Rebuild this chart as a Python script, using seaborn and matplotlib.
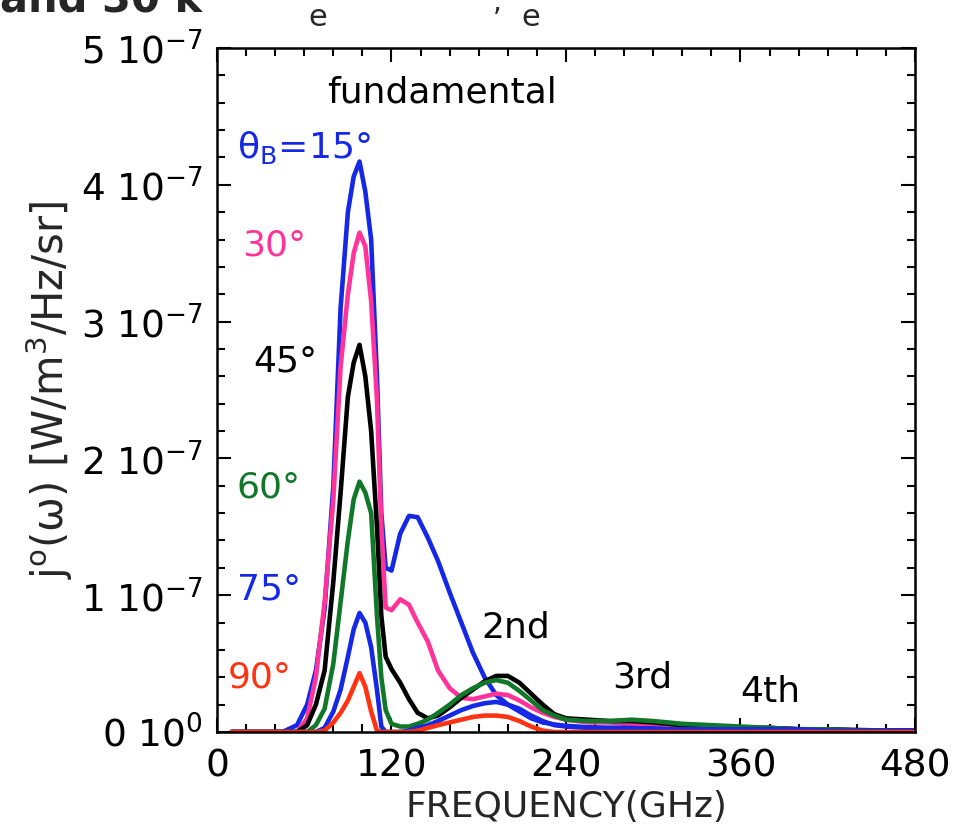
import numpy as np
import pandas as pd
import matplotlib
matplotlib.use("Agg")
import matplotlib.pyplot as plt
import seaborn as sns
from matplotlib.ticker import MultipleLocator, FixedLocator

sns.set_theme(style="white")
plt.rcParams['font.family'] = ['DejaVu Sans']
plt.rcParams['mathtext.default'] = 'regular'

# ---------------- data (j in units of 1e-7 W/m^3/Hz/sr) ----------------
freq = [10, 45, 55, 62, 68, 74, 80, 85, 90, 94, 98, 102, 106, 110, 113, 116,
        120, 126, 132, 138, 145, 152, 160, 168, 176, 184, 192, 200, 208, 216,
        224, 232, 240, 255, 270, 285, 300, 320, 340, 360, 380, 400, 420, 440,
        460, 480]

j15 = [0, 0, 0.05, 0.2, 0.45, 0.9, 1.8, 3.1, 3.8, 4.06, 4.17, 3.95, 3.6, 2.6, 1.6, 1.2,
       1.18, 1.45, 1.58, 1.57, 1.42, 1.25, 1.02, 0.8, 0.58, 0.4, 0.27, 0.2, 0.15, 0.1,
       0.07, 0.055, 0.045, 0.035, 0.03, 0.03, 0.03, 0.02, 0.02, 0.02, 0.02, 0.015, 0.01, 0.01,
       0.01, 0.01]
j30 = [0, 0, 0, 0.1, 0.4, 0.95, 1.7, 2.67, 3.2, 3.5, 3.65, 3.55, 3.15, 2.43, 1.5, 0.91,
       0.89, 0.97, 0.93, 0.8, 0.66, 0.45, 0.32, 0.25, 0.24, 0.26, 0.28, 0.27, 0.23, 0.18,
       0.14, 0.11, 0.09, 0.07, 0.07, 0.06, 0.06, 0.05, 0.04, 0.03, 0.03, 0.02, 0.015, 0.01,
       0.01, 0.01]
j45 = [0, 0, 0, 0.05, 0.2, 0.45, 1.1, 1.75, 2.45, 2.7, 2.83, 2.6, 2.2, 1.5, 0.85, 0.55,
       0.46, 0.36, 0.24, 0.14, 0.1, 0.12, 0.18, 0.25, 0.31, 0.37, 0.41, 0.41, 0.36, 0.28,
       0.2, 0.13, 0.1, 0.09, 0.08, 0.08, 0.07, 0.05, 0.04, 0.03, 0.03, 0.02, 0.02, 0.015,
       0.01, 0.01]
j60 = [0, 0, 0, 0, 0.05, 0.17, 0.5, 0.95, 1.4, 1.7, 1.83, 1.75, 1.6, 0.85, 0.4, 0.16,
       0.06, 0.04, 0.04, 0.06, 0.09, 0.14, 0.2, 0.27, 0.32, 0.36, 0.38, 0.36, 0.3, 0.23,
       0.16, 0.12, 0.09, 0.08, 0.08, 0.09, 0.08, 0.06, 0.05, 0.04, 0.03, 0.02, 0.02, 0.01,
       0.01, 0.0]
j75 = [0, 0, 0, 0, 0, 0.03, 0.15, 0.31, 0.55, 0.75, 0.87, 0.8, 0.62, 0.31, 0.04, 0,
       0, 0, 0.01, 0.03, 0.05, 0.08, 0.12, 0.16, 0.19, 0.21, 0.22, 0.2, 0.17, 0.12,
       0.08, 0.05, 0.04, 0.03, 0.03, 0.03, 0.02, 0.02, 0.02, 0.02, 0.02, 0.02, 0.01, 0.01,
       0.01, 0.01]
j90 = [0, 0, 0, 0, 0, 0.01, 0.07, 0.14, 0.23, 0.33, 0.43, 0.33, 0.15, 0.01, 0, 0,
       0, 0, 0, 0.01, 0.03, 0.05, 0.07, 0.09, 0.11, 0.12, 0.12, 0.11, 0.08, 0.04,
       0.01, 0, 0, 0, 0, 0, 0, 0, 0, 0, 0, 0, 0, 0,
       0, 0]

angles = ["15", "30", "45", "60", "75", "90"]
series = [j15, j30, j45, j60, j75, j90]
colors = ["#1428e6", "#ff3399", "#000000", "#11782a", "#1428e6", "#ff3311"]

ytick_vals = [0, 1, 2, 3, 4, 5]
ytick_labels = ["0 10$^{0}$", "1 10$^{-7}$", "2 10$^{-7}$", "3 10$^{-7}$",
                "4 10$^{-7}$", "5 10$^{-7}$"]
xtick_vals = [0, 120, 240, 360, 480]

SCALE = 1e-7
rows = []
for a, ys in zip(angles, series):
    for f, v in zip(freq, ys):
        rows.append((f, v * SCALE, a))
df = pd.DataFrame(rows, columns=["freq", "j", "angle"])

# ---------------- figure ----------------
fig = plt.figure(figsize=(9.7, 8.27), dpi=100)
ax = fig.add_axes([217 / 970, 1 - 732 / 827, (915 - 217) / 970, (732 - 48) / 827])

sns.lineplot(data=df, x="freq", y="j", hue="angle", palette=dict(zip(angles, colors)),
             estimator=None, sort=False, legend=False, linewidth=3.3, ax=ax)

ax.set_xlim(0, 480)
ax.set_ylim(0, 5 * SCALE)
ax.xaxis.set_major_locator(FixedLocator(xtick_vals))
ax.xaxis.set_minor_locator(MultipleLocator(20))
ax.yaxis.set_major_locator(FixedLocator([v * SCALE for v in ytick_vals]))
ax.yaxis.set_minor_locator(MultipleLocator(0.2 * SCALE))
ax.set_yticklabels(ytick_labels)
ax.set_xticklabels([str(v) for v in xtick_vals])

ax.tick_params(which="both", direction="in", top=True, right=True, bottom=True, left=True,
               width=1.5, colors="black")
ax.tick_params(which="major", length=10, labelsize=27, pad=10)
ax.tick_params(which="minor", length=6)
ax.tick_params(axis="x", which="major", pad=12)
for s in ax.spines.values():
    s.set_linewidth(1.8)
    s.set_color("black")

ax.set_xlabel("FREQUENCY(GHz)", fontsize=26, labelpad=4)
ax.set_ylabel(r"j$^{\rm o}$($\omega$) [W/m$^3$/Hz/sr]", fontsize=30, labelpad=4)

def px_to_data(px, py):
    return (px - 217) / (698 / 480), (732 - py) / 136.8 * SCALE

labels = [
    ("fundamental", 327, 102, "black"),
    (r"$\theta_{B}$=15°", 237, 158, colors[0]),
    ("30°", 242, 255, colors[1]),
    ("45°", 253, 372, colors[2]),
    ("60°", 237, 497, colors[3]),
    ("75°", 237, 600, colors[4]),
    ("90°", 228, 688, colors[5]),
    ("2nd", 481, 637, "black"),
    ("3rd", 612, 688, "black"),
    ("4th", 740, 702, "black"),
]
for txt, px, py, c in labels:
    x, y = px_to_data(px, py)
    ax.text(x, y, txt, color=c, fontsize=26, ha="left", va="baseline")

# cropped title remnants at the very top
fig.text(0.0, 1 - 12 / 827, "and 30 k", fontsize=30, fontweight="bold",
         ha="left", va="baseline")
fig.text(318 / 970, 1 - 18 / 827, "e", fontsize=22, ha="center", va="center")
fig.text(497 / 970, 1 - 3 / 827, ",", fontsize=20, ha="center", va="center")
fig.text(531 / 970, 1 - 18 / 827, "e", fontsize=22, ha="center", va="center")

fig.savefig("out.png", dpi=100)
